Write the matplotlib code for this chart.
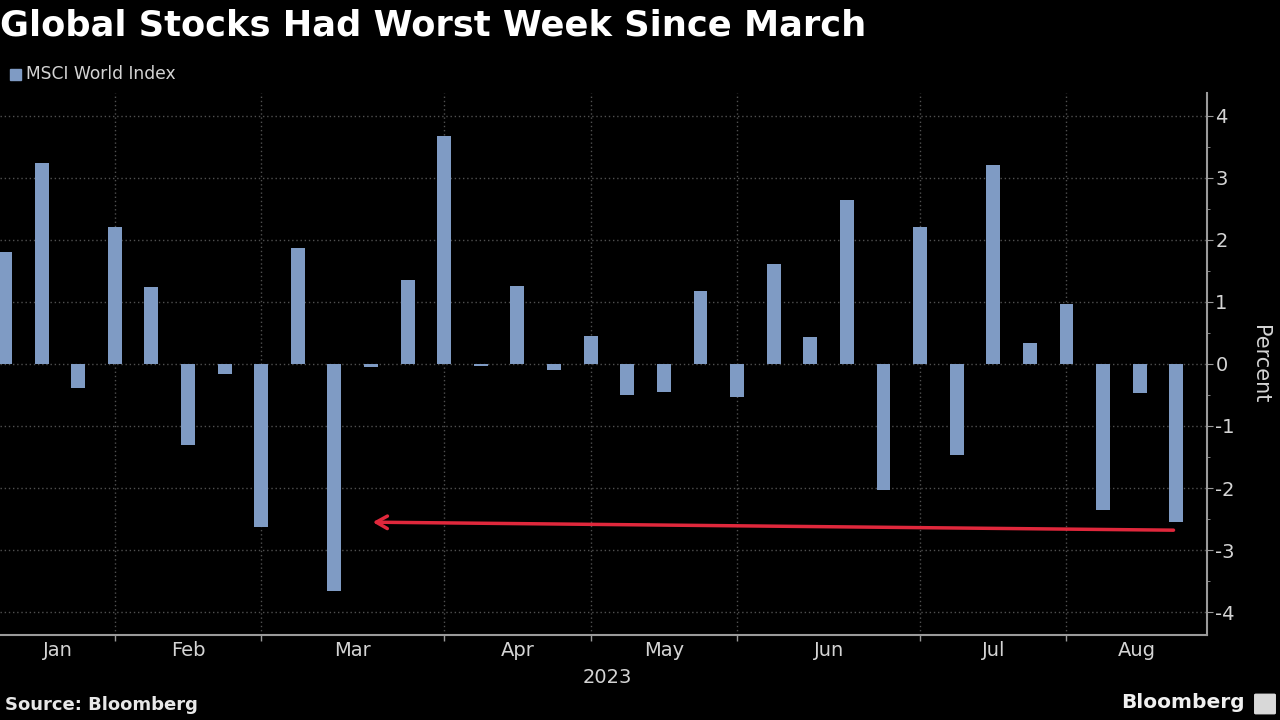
import matplotlib
matplotlib.use("Agg")
import matplotlib.pyplot as plt
from matplotlib.patches import Rectangle, FancyBboxPatch
from matplotlib.ticker import MultipleLocator
import pandas as pd
import numpy as np

plt.rcParams['font.family'] = ['DejaVu Sans']
plt.rcParams['axes.unicode_minus'] = False

# ---- data ----
week_dates = pd.date_range("2023-01-06", "2023-08-18", freq="W-FRI")
weekly_change = [1.80, 3.24, -0.38, 2.21, 1.24, -1.31, -0.16, -2.63, 1.87, -3.66,
                 -0.05, 1.35, 3.67, -0.03, 1.25, -0.10, 0.45, -0.50, -0.46, 1.18,
                 -0.54, 1.61, 0.43, 2.65, -2.03, 2.21, -1.46, 3.20, 0.34, 0.97,
                 -2.35, -0.47, -2.54]
month_labels = ["Jan", "Feb", "Mar", "Apr", "May", "Jun", "Jul", "Aug"]
y_ticks = [-4, -3, -2, -1, 0, 1, 2, 3, 4]
title = "Global Stocks Had Worst Week Since March"
series_name = "MSCI World Index"

BG = "#000000"
BAR = "#7f9bc4"
GRID = "#505050"
AXIS = "#9a9a9a"
TXT = "#d4d4d4"
RED = "#e0283c"

fig = plt.figure(figsize=(12.8, 7.2), dpi=100, facecolor=BG)
ax = fig.add_axes([0.0, 0.118, 0.943, 0.753])
ax.set_facecolor(BG)

x = np.arange(len(weekly_change))
ax.bar(x, weekly_change, width=0.38, color=BAR, zorder=3)

ax.set_xlim(-0.137, 32.84)
ax.set_ylim(-4.37, 4.37)

# month boundaries: last week of each month
months = week_dates.month
bounds = [i for i in range(len(months) - 1) if months[i] != months[i + 1]]
edges = [ax.get_xlim()[0]] + bounds + [ax.get_xlim()[1]]
centers = [(edges[i] + edges[i + 1]) / 2 for i in range(len(edges) - 1)]

ax.set_xticks(bounds)
ax.set_xticklabels([])
ax.tick_params(axis='x', length=4, color=AXIS, direction='out', width=1)
for xc, lab in zip(centers, month_labels):
    ax.text(xc, -0.029, lab, transform=ax.get_xaxis_transform(), ha='center',
            va='center', color=TXT, fontsize=14)
ax.text(0.503, -0.078, "2023", transform=ax.transAxes, ha='center', va='center',
        color=TXT, fontsize=14)

for b in bounds:
    ax.axvline(b, color=GRID, lw=1, ls=(0, (1, 2)), zorder=1)
for yt in y_ticks:
    ax.axhline(yt, color=GRID, lw=1, ls=(0, (1, 2)), zorder=1)

ax.yaxis.tick_right()
ax.set_yticks(y_ticks)
ax.set_yticklabels([str(v) for v in y_ticks])
ax.yaxis.set_minor_locator(MultipleLocator(0.5))
ax.tick_params(axis='y', which='major', length=4, color=AXIS, labelcolor=TXT,
               labelsize=14, pad=2)
ax.tick_params(axis='y', which='minor', length=2, color=AXIS)
ax.yaxis.set_label_position("right")
ax.set_ylabel("Percent", color=TXT, fontsize=15, rotation=-90, labelpad=25)

for s in ['top', 'left']:
    ax.spines[s].set_visible(False)
for s in ['right', 'bottom']:
    ax.spines[s].set_color(AXIS)
    ax.spines[s].set_linewidth(1.5)

# annotation arrow
ax.annotate("", xy=(9.97, -2.55), xytext=(32.0, -2.68),
            arrowprops=dict(arrowstyle="->,head_length=0.8,head_width=0.45",
                            color=RED, lw=2.5), zorder=4)

# title, legend, footer
fig.text(0.0, 1 - 25 / 720, title, color="white", fontsize=25.4,
         fontweight='bold', va='center', ha='left')
fig.add_artist(Rectangle((10 / 1280, 1 - 80 / 720), 11 / 1280, 11 / 720,
                         transform=fig.transFigure, color=BAR))
fig.text(26 / 1280, 1 - 74 / 720, series_name, color=TXT, fontsize=12.3,
         va='center', ha='left')
fig.text(5 / 1280, 1 - 705 / 720, "Source: Bloomberg", color="#e8e8e8",
         fontsize=13, fontweight='bold', va='center', ha='left')
fig.text(1245 / 1280, 1 - 703 / 720, "Bloomberg", color="#f0f0f0",
         fontsize=14.5, fontweight='bold', va='center', ha='right')
fig.add_artist(FancyBboxPatch((1256 / 1280, 1 - 713 / 720), 18 / 1280, 18 / 720,
                              boxstyle="round,pad=0.001", transform=fig.transFigure,
                              color="#d8d8d8"))

fig.savefig("out.png", dpi=100, facecolor=BG)
